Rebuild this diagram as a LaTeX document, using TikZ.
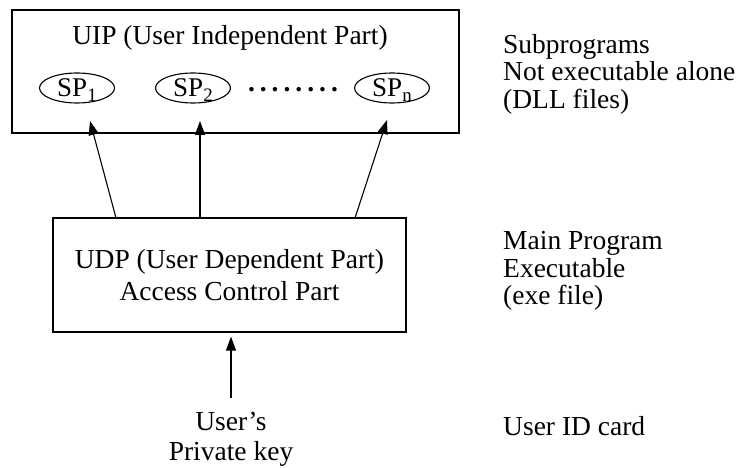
\documentclass[tikz,border=0pt]{standalone}
\usepackage{fontspec}
\setmainfont{Liberation Serif}
\usetikzlibrary{arrows.meta,shapes.geometric}
% lowered small index after "SP"
\newcommand{\spsub}[1]{\raisebox{-5pt}{\fontsize{19}{19}\selectfont #1}}
\begin{document}
\begin{tikzpicture}[x=1pt,y=-1pt,
  box/.style={draw, line width=1.3pt, inner sep=0pt},
  sp/.style={draw, ellipse, line width=1.1pt, minimum width=75pt,
             minimum height=30pt, inner sep=0pt, text depth=0pt,
             font=\fontsize{27}{28}\selectfont},
  conn/.style={line width=1.1pt, -{Triangle[length=14pt,width=10pt]}},
  big/.style={font=\fontsize{27.5}{27.5}\selectfont, inner sep=0pt},
  side/.style={big, align=left, anchor=north west}]
\useasboundingbox (0,0) rectangle (742,468);

% upper part: subprograms
\node[box, minimum width=447pt, minimum height=123pt] (uip) at (235.5,71.5) {};
\node[big, anchor=base] (uiptitle) at (230,45) {UIP (User Independent Part)};
\node[sp] (sp1) at (77,88) {SP\spsub{1}};
\node[sp] (sp2) at (193,88) {SP\spsub{2}};
\node[sp] (spn) at (392,88) {SP\spsub{n}};
\node[big, anchor=base] (dots) at (293,92)
  {\makebox[90pt]{\textbf{.\hfill.\hfill.\hfill.\hfill.\hfill.\hfill.\hfill.}}};

% lower part: main program
\node[box, minimum width=353pt, minimum height=114pt] (udp) at (229.5,275) {};
\node[big, align=center, font=\fontsize{27.5}{32}\selectfont] (udptext) at (229.5,275)
  {UDP (User Dependent Part)\\Access Control Part};

% key
\node[big, align=center, font=\fontsize{27.5}{30}\selectfont] (key) at (231,439)
  {User's\\Private key};

% connectors
\coordinate (s1) at (116,218);
\coordinate (s2) at (200,218);
\coordinate (s3) at (355,218);
\coordinate (t1) at (90,121);
\coordinate (t2) at (200,121);
\coordinate (t3) at (387,120);
\draw[conn] (s1) -- (t1);
\draw[conn] (s2) -- (t2);
\draw[conn] (s3) -- (t3);
\draw[conn, shorten <=14pt, shorten >=4pt] (key.north) -- (key.north |- udp.south);

% side notes
\node[side] (note1) at (503,34.2) {Subprograms\\Not executable alone\\(DLL files)};
\node[side] (note2) at (503,231.2) {Main Program\\Executable\\(exe file)};
\node[side] (note3) at (503,416.2) {User ID card};
\end{tikzpicture}
\end{document}
